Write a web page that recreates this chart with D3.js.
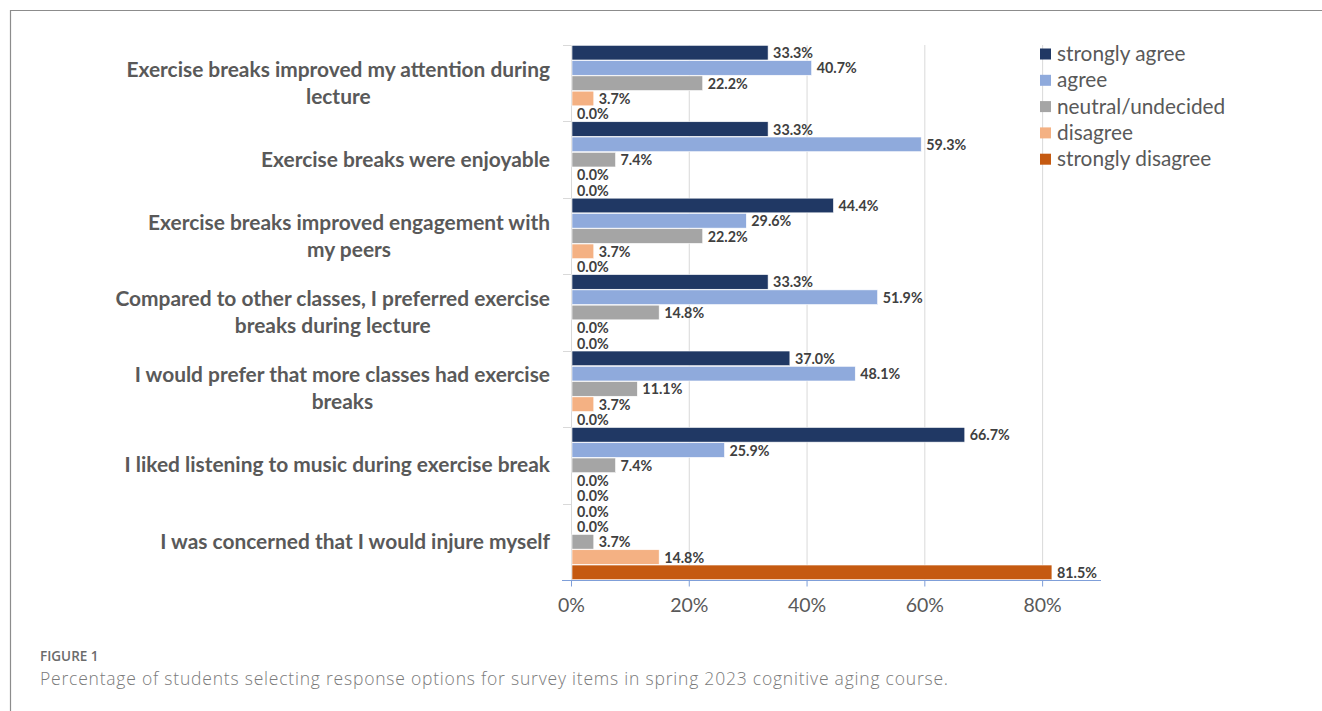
<!DOCTYPE html>
<html>
<head>
<meta charset="utf-8">
<script src="https://cdn.jsdelivr.net/npm/d3@7"></script>
<style>
  html, body { margin: 0; padding: 0; background: #fff; }
  svg { display: block; }
</style>
</head>
<body>
<svg id="chart" width="1322" height="711"></svg>
<script>
// ---- DATA ----
const categories = [
  "Exercise breaks improved my attention during\nlecture",
  "Exercise breaks were enjoyable",
  "Exercise breaks improved engagement with\nmy peers",
  "Compared to other classes, I preferred exercise\nbreaks during lecture",
  "I would prefer that more classes had exercise\nbreaks",
  "I liked listening to music during exercise break",
  "I was concerned that I would injure myself"
];
const seriesNames = ["strongly agree", "agree", "neutral/undecided", "disagree", "strongly disagree"];
const seriesColors = ["#203864", "#8FAADC", "#A5A5A5", "#F4B183", "#C55A11"];
const stronglyAgree    = [33.3, 33.3, 44.4, 33.3, 37.0, 66.7, 0.0];
const agree            = [40.7, 59.3, 29.6, 51.9, 48.1, 25.9, 0.0];
const neutral          = [22.2,  7.4, 22.2, 14.8, 11.1,  7.4, 3.7];
const disagree         = [ 3.7,  0.0,  3.7,  0.0,  3.7,  0.0, 14.8];
const stronglyDisagree = [ 0.0,  0.0,  0.0,  0.0,  0.0,  0.0, 81.5];
const tickValues = [0, 20, 40, 60, 80];
const figureLabel = "FIGURE 1";
const caption = "Percentage of students selecting response options for survey items in spring 2023 cognitive aging course.";

const seriesValues = [stronglyAgree, agree, neutral, disagree, stronglyDisagree];

// ---- LAYOUT ----
const svg = d3.select("#chart");
const plot = { left: 571, right: 1101, top: 45, bottom: 580 };
const FONT = "Lato, 'Open Sans', sans-serif";

// frame
svg.append("path")
  .attr("d", `M10.5,711 L10.5,10.5 L1322,10.5`)
  .attr("fill", "none").attr("stroke", "#8c8c8c").attr("stroke-width", 1.2);

const x = d3.scaleLinear().domain([0, 90]).range([plot.left, plot.right]);
const y = d3.scaleBand().domain(d3.range(categories.length)).range([plot.top, plot.bottom]).paddingInner(0).paddingOuter(0);
const yInner = d3.scaleBand().domain(d3.range(seriesNames.length)).range([0, y.bandwidth()]).paddingInner(0.04).paddingOuter(0.02);

// gridlines
svg.append("g").selectAll("line").data(tickValues.filter(d => d > 0)).join("line")
  .attr("x1", d => x(d) + 0.5).attr("x2", d => x(d) + 0.5)
  .attr("y1", plot.top).attr("y2", plot.bottom)
  .attr("stroke", "#D9D9D9").attr("stroke-width", 1);

// left axis line + category ticks
svg.append("line")
  .attr("x1", plot.left + 0.5).attr("x2", plot.left + 0.5)
  .attr("y1", plot.top).attr("y2", plot.bottom)
  .attr("stroke", "#D9D9D9");
svg.append("g").selectAll("line").data(d3.range(categories.length + 1)).join("line")
  .attr("x1", plot.left - 8).attr("x2", plot.left)
  .attr("y1", d => Math.round(plot.top + d * y.step()) + 0.5)
  .attr("y2", d => Math.round(plot.top + d * y.step()) + 0.5)
  .attr("stroke", "#D9D9D9");

// bars
const rows = [];
categories.forEach((c, ci) => seriesValues.forEach((vals, si) => rows.push({ ci, si, v: vals[ci] })));

svg.append("g").selectAll("rect").data(rows).join("rect")
  .attr("x", plot.left + 1)
  .attr("y", d => y(d.ci) + yInner(d.si))
  .attr("width", d => Math.max(0, x(d.v) - plot.left))
  .attr("height", yInner.bandwidth())
  .attr("fill", d => seriesColors[d.si])
  .attr("stroke", "#ffffff").attr("stroke-width", 0.6);

// value labels
svg.append("g").selectAll("text").data(rows).join("text")
  .attr("x", d => x(d.v) + 6)
  .attr("y", d => y(d.ci) + yInner(d.si) + yInner.bandwidth() / 2 + 5.5)
  .attr("font-family", FONT)
  .attr("font-weight", 700).attr("font-size", 14.3)
  .attr("fill", "#404040")
  .text(d => d.v.toFixed(1) + "%");

// bottom axis
const xAxis = d3.axisBottom(x).tickValues(tickValues).tickSize(6).tickFormat(d => d + "%");
const ax = svg.append("g").attr("transform", `translate(0,${plot.bottom + 0.5})`).call(xAxis);
ax.select(".domain").attr("stroke", "#7F9FD9").attr("d", `M${plot.left - 9},0H${plot.right}`);
ax.selectAll(".tick line").attr("stroke", "#7F9FD9");
ax.selectAll(".tick text")
  .attr("font-family", FONT)
  .attr("font-size", 19.5).attr("fill", "#595959").attr("dy", "1.15em");

// category labels
const labelRight = 550;
const lineH = 27;
categories.forEach((c, ci) => {
  const lines = c.split("\n");
  const cy = y(ci) + y.bandwidth() / 2;
  const g = svg.append("g");
  const texts = lines.map((ln, li) => g.append("text")
    .attr("y", cy + (li - (lines.length - 1) / 2) * lineH + 7)
    .attr("font-family", FONT)
    .attr("font-weight", 700).attr("font-size", 20.9)
    .attr("fill", "#595959")
    .attr("text-anchor", "middle")
    .text(ln));
  const maxW = d3.max(texts, t => t.node().getComputedTextLength());
  texts.forEach(t => t.attr("x", labelRight - maxW / 2));
});

// legend
const leg = svg.append("g").attr("transform", "translate(1040,54)");
seriesNames.forEach((n, i) => {
  const gy = i * 26.3;
  leg.append("rect").attr("x", 0).attr("y", gy - 5.5).attr("width", 11).attr("height", 11).attr("fill", seriesColors[i]);
  leg.append("text").attr("x", 17).attr("y", gy + 7)
    .attr("font-family", FONT)
    .attr("font-size", 20.8).attr("fill", "#595959").text(n);
});

// caption
svg.append("text").attr("x", 40).attr("y", 661)
  .attr("font-family", "'Open Sans', 'Noto Sans', sans-serif").attr("font-weight", 600)
  .attr("font-size", 13.5).attr("fill", "#6b6b6b").text(figureLabel);
svg.append("text").attr("x", 40).attr("y", 685)
  .attr("font-family", "'Open Sans', 'Noto Sans', sans-serif").attr("font-weight", 300)
  .attr("font-size", 17.5).attr("fill", "#7a7a7a")
  .attr("textLength", 908).attr("lengthAdjust", "spacing")
  .text(caption);
</script>
</body>
</html>
